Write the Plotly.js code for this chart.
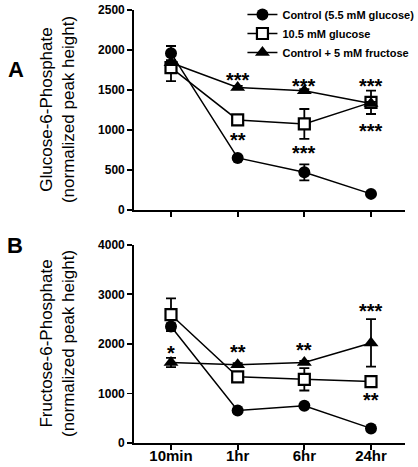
<!DOCTYPE html>
<html>
<head>
<meta charset="utf-8">
<script src="https://cdn.plot.ly/plotly-3.0.1.min.js"></script>
<style>html,body{margin:0;padding:0;background:#fff;}#chart{width:418px;height:467px;}</style>
</head>
<body>
<div id="chart"></div>
<script>
// Categories (time points)
const timePoints = ['10min', '1hr', '6hr', '24hr'];

// Panel A: Glucose-6-Phosphate
const g6pControl = [1960, 650, 470, 200];
const g6pControlErr = [90, 20, 100, 15];
const g6pHighGlucose = [1780, 1125, 1075, 1345];
const g6pHighGlucoseErr = [170, 30, 187, 146];
const g6pFructose = [1840, 1530, 1490, 1330];
const g6pFructoseErr = [30, 20, 20, 20];

// Panel B: Fructose-6-Phosphate
const f6pControl = [2350, 655, 750, 295];
const f6pControlErr = [60, 30, 30, 30];
const f6pHighGlucose = [2590, 1335, 1285, 1240];
const f6pHighGlucoseErr = [330, 40, 225, 60];
const f6pFructose = [1625, 1580, 1625, 2020];
const f6pFructoseErr = [95, 30, 30, 480];

// Series names
const seriesNames = ['Control (5.5 mM glucose)', '10.5 mM glucose', 'Control + 5 mM fructose'];

// Significance labels
const sigPanel = ['A', 'A', 'A', 'A', 'A', 'A', 'B', 'B', 'B', 'B', 'B'];
const sigCat = ['1hr', '6hr', '24hr', '1hr', '6hr', '24hr', '10min', '1hr', '6hr', '24hr', '24hr'];
const sigText = ['***', '***', '***', '**', '***', '***', '*', '**', '**', '***', '**'];
const sigValue = [1662, 1587, 1587, 912, 750, 1025, 1881, 1901, 1941, 2732, 933];

const FONT = '"Liberation Sans", Arial, sans-serif';

function series(x, y, err, name, sym, xa, ya, showlegend, rank) {
  const m = {color: '#000', size: 12, line: {color: '#000', width: 0}};
  if (sym === 'square-open') {
    m.symbol = 'square'; m.color = '#fff'; m.line = {color: '#000', width: 2.2}; m.size = 11;
  } else if (sym === 'triangle-up') {
    m.symbol = 'triangle-up'; m.size = 13;
  } else {
    m.symbol = 'circle';
  }
  return {
    x: x, y: y, name: name, type: 'scatter', mode: 'lines+markers',
    xaxis: xa, yaxis: ya, showlegend: showlegend, legendrank: rank,
    line: {color: '#000', width: 1.5},
    marker: m,
    error_y: {type: 'data', array: err, visible: true, color: '#000', thickness: 1.8, width: 5},
    cliponaxis: false, hoverinfo: 'skip'
  };
}

const data = [
  series(timePoints, g6pHighGlucose, g6pHighGlucoseErr, seriesNames[1], 'square-open', 'x', 'y', true, 2),
  series(timePoints, g6pFructose, g6pFructoseErr, seriesNames[2], 'triangle-up', 'x', 'y', true, 3),
  series(timePoints, g6pControl, g6pControlErr, seriesNames[0], 'circle', 'x', 'y', true, 1),
  series(timePoints, f6pHighGlucose, f6pHighGlucoseErr, seriesNames[1], 'square-open', 'x2', 'y2', false, 2),
  series(timePoints, f6pFructose, f6pFructoseErr, seriesNames[2], 'triangle-up', 'x2', 'y2', false, 3),
  series(timePoints, f6pControl, f6pControlErr, seriesNames[0], 'circle', 'x2', 'y2', false, 1)
];

const annotations = [];
for (let i = 0; i < sigText.length; i++) {
  const isA = sigPanel[i] === 'A';
  annotations.push({
    xref: isA ? 'x' : 'x2', yref: isA ? 'y' : 'y2',
    x: sigCat[i], y: sigValue[i], text: sigText[i], showarrow: false,
    xanchor: 'center', yanchor: 'middle', yshift: -3,
    font: {family: FONT, size: 20, color: '#000', weight: 'bold'}
  });
}
annotations.push({
  xref: 'paper', yref: 'y domain', x: -0.28, y: 0.5,
  text: 'Glucose-6-Phosphate<br>(normalized peak height)', textangle: -90,
  showarrow: false, xanchor: 'center', yanchor: 'middle',
  font: {family: FONT, size: 17, color: '#000'}
});
annotations.push({
  xref: 'paper', yref: 'y2 domain', x: -0.28, y: 0.5,
  text: 'Fructose-6-Phosphate<br>(normalized peak height)', textangle: -90,
  showarrow: false, xanchor: 'center', yanchor: 'middle',
  font: {family: FONT, size: 17, color: '#000'}
});
annotations.push({
  xref: 'paper', yref: 'paper', x: -0.435, y: 0.8615, text: 'A',
  showarrow: false, xanchor: 'center', yanchor: 'middle',
  font: {family: FONT, size: 22, color: '#000', weight: 'bold'}
});
annotations.push({
  xref: 'paper', yref: 'paper', x: -0.439, y: 0.455, text: 'B',
  showarrow: false, xanchor: 'center', yanchor: 'middle',
  font: {family: FONT, size: 22, color: '#000', weight: 'bold'}
});

const xcommon = {
  type: 'category', range: [-0.555, 3.51], showgrid: false, zeroline: false,
  showline: true, linecolor: '#000', linewidth: 1.8,
  ticks: 'outside', ticklen: 5, tickwidth: 1.8, tickcolor: '#000',
  tickfont: {family: FONT, size: 15, color: '#000', weight: 'bold'}, fixedrange: true
};
const ycommon = {
  showgrid: false, zeroline: false, showline: true, linecolor: '#000', linewidth: 1.8,
  ticks: 'outside', ticklen: 5, tickwidth: 1.8, tickcolor: '#000',
  tickfont: {family: FONT, size: 12, color: '#000', weight: 'bold'}, fixedrange: true
};

const layout = {
  width: 418, height: 467,
  margin: {l: 134, r: 13, t: 10, b: 23.7, autoexpand: false},
  paper_bgcolor: '#fff', plot_bgcolor: '#fff',
  showlegend: true,
  legend: {
    xref: 'container', yref: 'container',
    x: 0.58, y: 1.0, xanchor: 'left', yanchor: 'top',
    bgcolor: 'rgba(0,0,0,0)', borderwidth: 0,
    font: {family: FONT, size: 11, color: '#000', weight: 'bold'},
    traceorder: 'normal', itemclick: false
  },
  xaxis: Object.assign({}, xcommon, {domain: [0, 1], anchor: 'y', showticklabels: false}),
  yaxis: Object.assign({}, ycommon, {domain: [0.5384, 1], anchor: 'x', range: [0, 2500], dtick: 500}),
  xaxis2: Object.assign({}, xcommon, {domain: [0, 1], anchor: 'y2', ticklabelstandoff: -7}),
  yaxis2: Object.assign({}, ycommon, {domain: [0, 0.4577], anchor: 'x2', range: [0, 4000], dtick: 1000}),
  annotations: annotations
};

Plotly.newPlot('chart', data, layout, {displayModeBar: false, staticPlot: true});
</script>
</body>
</html>
